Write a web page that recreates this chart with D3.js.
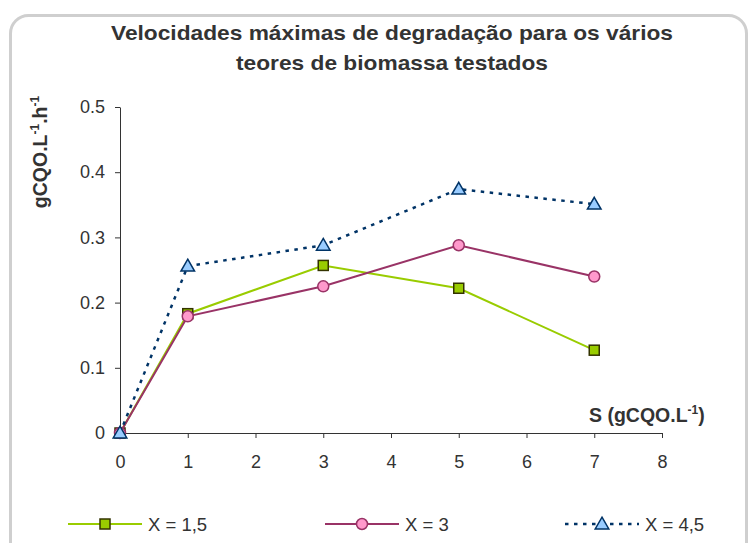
<!DOCTYPE html>
<html>
<head>
<meta charset="utf-8">
<script src="https://cdn.jsdelivr.net/npm/d3@7"></script>
<style>
  body { margin: 0; background: #fff; }
  svg { display: block; font-family: "Liberation Sans", Arial, sans-serif; }
  .axis path, .axis line { stroke: #333; }
</style>
</head>
<body>
<div id="chart"></div>
<script>
// substrate values (x) and the three biomass series
var sValues = [0, 1, 3, 5, 7];
var serieX15 = [0, 0.183, 0.257, 0.222, 0.127];
var serieX3 = [0, 0.179, 0.225, 0.288, 0.240];
var serieX45 = [0, 0.256, 0.288, 0.374, 0.351];
var seriesNames = ["X = 1,5", "X = 3", "X = 4,5"];
var xTicks = [0, 1, 2, 3, 4, 5, 6, 7, 8];
var yTicks = [0, 0.1, 0.2, 0.3, 0.4, 0.5];

var width = 750, height = 543;

var svg = d3.select("#chart").append("svg")
    .attr("width", width)
    .attr("height", height);

// chart area frame
svg.append("rect")
    .attr("x", 10.5).attr("y", 15.5)
    .attr("width", 736).attr("height", 545)
    .attr("rx", 18)
    .attr("fill", "#fff")
    .attr("stroke", "#cfcfcf")
    .attr("stroke-width", 3);

var ScaleX = d3.scaleLinear().domain([0, 8]).range([120, 662]);
var ScaleY = d3.scaleLinear().domain([0, 0.5]).range([433, 107]);

var fmtY = function(d) { return d === 0 ? "0" : d3.format(".1f")(d); };

svg.append("g")
    .attr("class", "axis")
    .attr("transform", "translate(120,0)")
    .call(d3.axisLeft(ScaleY).tickValues(yTicks).tickFormat(fmtY).tickSize(5).tickPadding(10).tickSizeOuter(0));

svg.append("g")
    .attr("class", "axis")
    .attr("transform", "translate(0,433)")
    .call(d3.axisBottom(ScaleX).tickValues(xTicks).tickSize(5).tickPadding(17).tickSizeOuter(0));

svg.selectAll(".axis .tick text")
    .attr("fill", "#333")
    .style("font-size", "18px")
    .style("font-family", "Liberation Sans, Arial, sans-serif");

// title
var title = svg.append("text")
    .attr("text-anchor", "middle")
    .attr("font-weight", "bold")
    .attr("font-size", "21px")
    .attr("fill", "#333");
title.append("tspan").attr("x", 392).attr("y", 40)
    .attr("textLength", 562).attr("lengthAdjust", "spacingAndGlyphs")
    .text("Velocidades máximas de degradação para os vários");
title.append("tspan").attr("x", 392).attr("y", 70)
    .attr("textLength", 312).attr("lengthAdjust", "spacingAndGlyphs")
    .text("teores de biomassa testados");

// y label
var yLab = svg.append("text")
    .attr("transform", "translate(47,152)rotate(-90)")
    .attr("text-anchor", "middle")
    .attr("font-weight", "bold")
    .attr("font-size", "19.5px")
    .attr("fill", "#333");
yLab.append("tspan").text("gCQO.L");
yLab.append("tspan").attr("font-size", "12px").attr("dy", -8).text("-1");
yLab.append("tspan").attr("dy", 8).text(".h");
yLab.append("tspan").attr("font-size", "12px").attr("dy", -8).text("-1");

// x label
var xLab = svg.append("text")
    .attr("x", 589).attr("y", 422)
    .attr("font-weight", "bold")
    .attr("font-size", "19.5px")
    .attr("fill", "#333");
xLab.append("tspan").text("S (gCQO.L");
xLab.append("tspan").attr("font-size", "12px").attr("dy", -8).text("-1");
xLab.append("tspan").attr("dy", 8).text(")");

var series = [
  { name: seriesNames[0], values: serieX15, color: "#99cc00", dash: null, width: 2, marker: "square", fill: "#99cc00", mstroke: "#333300" },
  { name: seriesNames[1], values: serieX3, color: "#993366", dash: null, width: 2, marker: "circle", fill: "#ff99cc", mstroke: "#993366" },
  { name: seriesNames[2], values: serieX45, color: "#003366", dash: "3.5,5.5", width: 2.5, marker: "triangle", fill: "#99ccff", mstroke: "#003366" }
];

var line = d3.line()
    .x(function(d) { return ScaleX(d[0]); })
    .y(function(d) { return ScaleY(d[1]); });

function drawMarker(g, s, cx, cy) {
  if (s.marker === "square") {
    g.append("rect").attr("x", cx - 5).attr("y", cy - 5).attr("width", 10).attr("height", 10)
      .attr("fill", s.fill).attr("stroke", s.mstroke).attr("stroke-width", 1.5);
  } else if (s.marker === "circle") {
    g.append("circle").attr("cx", cx).attr("cy", cy).attr("r", 5.5)
      .attr("fill", s.fill).attr("stroke", s.mstroke).attr("stroke-width", 1.5);
  } else {
    g.append("path")
      .attr("d", d3.symbol().type(d3.symbolTriangle).size(80)())
      .attr("transform", "translate(" + cx + "," + (cy + 1) + ")")
      .attr("fill", s.fill).attr("stroke", s.mstroke).attr("stroke-width", 1.5);
  }
}

series.forEach(function(s) {
  var pts = sValues.map(function(v, i) { return [v, s.values[i]]; });
  svg.append("path")
      .datum(pts)
      .attr("d", line)
      .attr("fill", "none")
      .attr("stroke", s.color)
      .attr("stroke-width", s.width)
      .attr("stroke-dasharray", s.dash);
  var g = svg.append("g");
  pts.forEach(function(p) { drawMarker(g, s, ScaleX(p[0]), ScaleY(p[1])); });
});

// legend
var legendX = [68, 325, 565];
series.forEach(function(s, i) {
  var g = svg.append("g").attr("transform", "translate(" + legendX[i] + ",524)");
  g.append("line").attr("x1", 0).attr("x2", 74).attr("y1", 0).attr("y2", 0)
    .attr("stroke", s.color).attr("stroke-width", s.width).attr("stroke-dasharray", s.dash);
  drawMarker(g, s, 37, 0);
  g.append("text").attr("x", 80).attr("y", 6.5).attr("font-size", "18.5px").attr("fill", "#333").text(s.name);
});
</script>
</body>
</html>
